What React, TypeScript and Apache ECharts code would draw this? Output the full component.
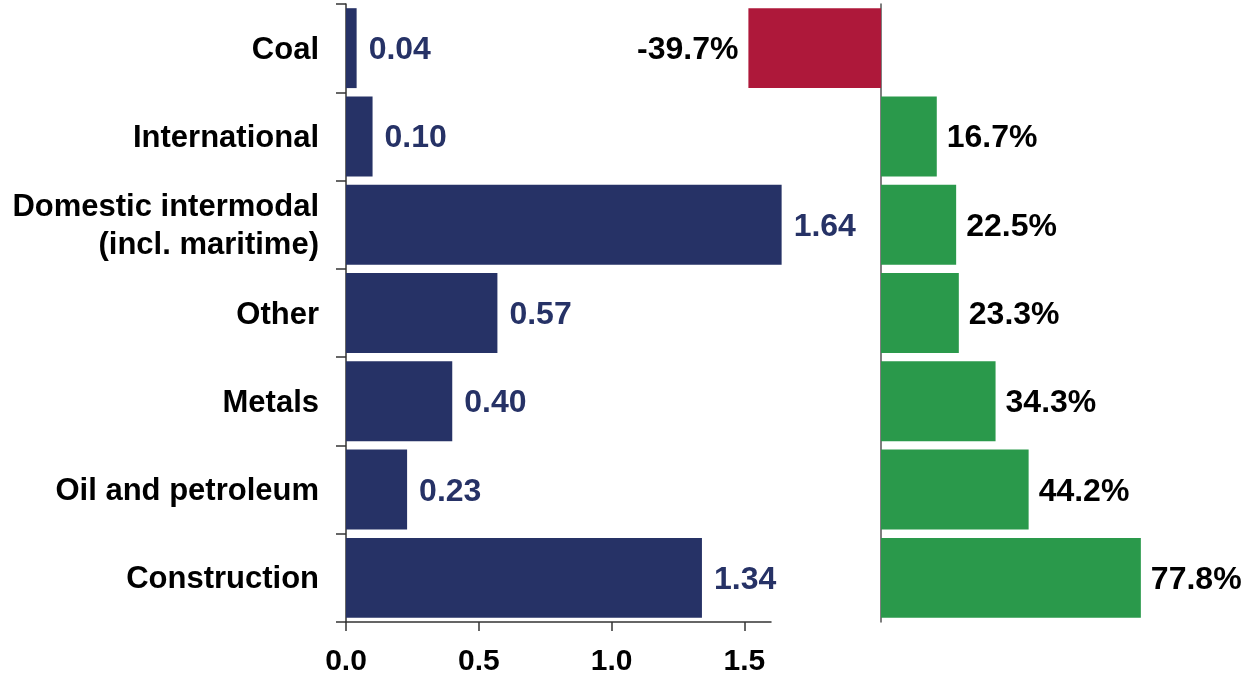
import React, { useEffect, useRef } from "react";
import * as echarts from "echarts";

const categories = [
  "Coal",
  "International",
  "Domestic intermodal\n(incl. maritime)",
  "Other",
  "Metals",
  "Oil and petroleum",
  "Construction",
];
const volumes = [0.04, 0.1, 1.64, 0.57, 0.4, 0.23, 1.34];
const changes = [-39.7, 16.7, 22.5, 23.3, 34.3, 44.2, 77.8];
const xTicks = [0, 0.5, 1, 1.5];

const NAVY = "#263266";
const RED = "#AE183A";
const GREEN = "#2A994B";
const FONT = "Liberation Sans, Arial, sans-serif";

export default function App() {
  const ref = useRef<HTMLDivElement>(null);
  useEffect(() => {
    if (!ref.current) return;
    const chart = echarts.init(ref.current, undefined, { renderer: "svg" });
    chart.setOption({
      animation: false,
      textStyle: { fontFamily: FONT },
      grid: [
        { left: 346, width: 425, top: 4, bottom: 52 },
        { left: 747.4, width: 400.8, top: 4, bottom: 52 },
      ],
      xAxis: [
        {
          type: "value",
          gridIndex: 0,
          min: 0,
          max: 1.6,
          interval: 0.5,
          splitLine: { show: false },
          axisLine: { show: true, lineStyle: { color: "#333", width: 1.5 } },
          axisTick: {
            show: true,
            length: 9,
            customValues: xTicks,
            lineStyle: { color: "#333", width: 1.5 },
          },
          axisLabel: {
            customValues: xTicks,
            formatter: (v: number) => v.toFixed(1),
            color: "#000",
            fontSize: 30,
            fontWeight: "bold",
            fontFamily: FONT,
            margin: 22,
          },
        },
        {
          type: "value",
          gridIndex: 1,
          min: -40,
          max: 80,
          show: false,
        },
      ],
      yAxis: [
        {
          type: "category",
          gridIndex: 0,
          data: categories,
          inverse: true,
          axisLine: { show: true, lineStyle: { color: "#333", width: 1.5 } },
          axisTick: { show: true, length: 10, lineStyle: { color: "#333", width: 1.5 } },
          axisLabel: {
            color: "#000",
            fontSize: 31,
            fontWeight: "bold",
            fontFamily: FONT,
            margin: 27,
            lineHeight: 38,
            align: "right",
          },
        },
        {
          type: "category",
          gridIndex: 1,
          data: categories,
          inverse: true,
          axisLine: { show: true, onZero: true, lineStyle: { color: "#555", width: 1.5 } },
          axisTick: { show: false },
          axisLabel: { show: false },
        },
      ],
      series: [
        {
          type: "bar",
          xAxisIndex: 0,
          yAxisIndex: 0,
          data: volumes,
          barCategoryGap: "9.5%",
          clip: false,
          itemStyle: { color: NAVY },
          label: {
            show: true,
            position: "right",
            distance: 12,
            formatter: (p: any) => Number(p.value).toFixed(2),
            color: NAVY,
            fontSize: 32,
            fontWeight: "bold",
            fontFamily: FONT,
          },
        },
        {
          type: "bar",
          xAxisIndex: 1,
          yAxisIndex: 1,
          barCategoryGap: "9.5%",
          data: changes.map((v) => ({
            value: v,
            itemStyle: { color: v < 0 ? RED : GREEN },
            label: { position: v < 0 ? "left" : "right" },
          })),
          label: {
            show: true,
            distance: 10,
            formatter: (p: any) => Number(p.value).toFixed(1) + "%",
            color: "#000",
            fontSize: 32,
            fontWeight: "bold",
            fontFamily: FONT,
          },
        },
      ],
    });
    return () => chart.dispose();
  }, []);
  return (
    <div
      ref={ref}
      style={{ position: "fixed", left: 0, top: 0, width: 1255, height: 674 }}
    />
  );
}
